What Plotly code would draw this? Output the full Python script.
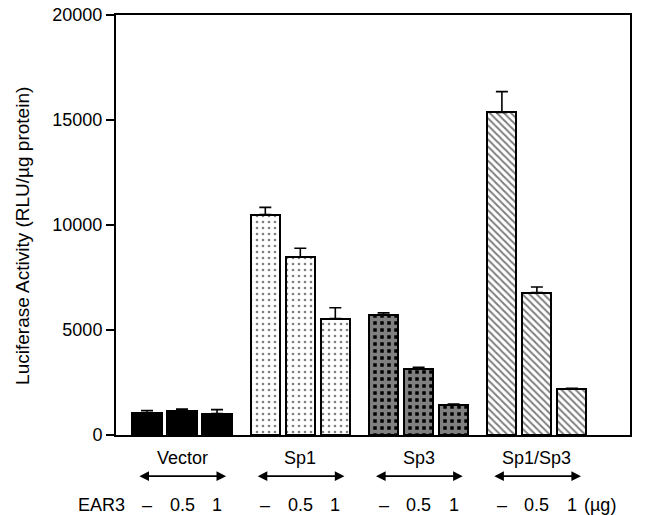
import plotly.graph_objects as go

groups = ["Vector", "Sp1", "Sp3", "Sp1/Sp3"]
doses = ["–", "0.5", "1"]
values = {
    "Vector": [1050, 1150, 1020],
    "Sp1": [10500, 8480, 5540],
    "Sp3": [5730, 3160, 1430],
    "Sp1/Sp3": [15360, 6780, 2180],
}
errors = {
    "Vector": [110, 80, 190],
    "Sp1": [340, 410, 520],
    "Sp3": [90, 60, 40],
    "Sp1/Sp3": [990, 270, 40],
}
y_ticks = [0, 5000, 10000, 15000, 20000]
y_title = "Luciferase Activity (RLU/µg protein)"

GROUP_STEP = 3.38
BAR_W = 0.83
FONT = "Arial, Liberation Sans, Helvetica, sans-serif"
FS = 18

patterns = {
    "Vector": dict(shape="", fgcolor="black", bgcolor="black"),
    "Sp1": dict(shape=".", size=6, solidity=0.15, fgcolor="black", bgcolor="white", fillmode="overlay"),
    "Sp3": dict(shape="+", size=7, solidity=0.75, fgcolor="white", bgcolor="black", fillmode="overlay"),
    "Sp1/Sp3": dict(shape="\\", size=5, solidity=0.4, fgcolor="black", bgcolor="white", fillmode="overlay"),
}

fig = go.Figure()
annotations = []
for g, name in enumerate(groups):
    x0 = g * GROUP_STEP
    xs = [x0 + i for i in range(len(doses))]
    color = "black" if name == "Vector" else "white"
    fig.add_trace(go.Bar(
        x=xs, y=values[name], width=BAR_W,
        marker=dict(color=color, line=dict(color="black", width=2), pattern=patterns[name]),
        error_y=dict(type="data", array=errors[name], arrayminus=[0] * len(doses),
                     symmetric=False, color="black", thickness=1.6, width=6),
        showlegend=False, name=name,
    ))
    annotations.append(dict(x=x0 + 1, y=-0.055, xref="x", yref="paper", text=name,
                            showarrow=False, font=dict(size=FS, family=FONT, color="black"),
                            yanchor="middle"))
    annotations.append(dict(x=x0 + 2.26, y=-0.098, xref="x", yref="paper",
                            ax=x0 - 0.26, ay=0, axref="x", ayref="pixel",
                            text="", showarrow=True, arrowside="end+start",
                            arrowhead=2, arrowsize=1.2, arrowwidth=1.6, arrowcolor="black"))
    for i, d in enumerate(doses):
        annotations.append(dict(x=xs[i], y=-0.167, xref="x", yref="paper", text=d,
                                showarrow=False, font=dict(size=FS, family=FONT, color="black"),
                                yanchor="middle"))

annotations.append(dict(x=-0.57, y=-0.167, xref="x", yref="paper", text="EAR3",
                        showarrow=False, xanchor="right", yanchor="middle",
                        font=dict(size=FS, family=FONT, color="black")))
annotations.append(dict(x=3 * GROUP_STEP + 2.3, y=-0.167, xref="x", yref="paper", text="(µg)",
                        showarrow=False, xanchor="left", yanchor="middle",
                        font=dict(size=FS, family=FONT, color="black")))
annotations.append(dict(x=-0.181, y=0.474, xref="paper", yref="paper", text=y_title,
                        textangle=-90, showarrow=False, xanchor="center", yanchor="middle",
                        font=dict(size=19, family=FONT, color="black")))

fig.update_layout(
    width=648, height=515,
    margin=dict(l=116, r=18, t=15, b=80),
    paper_bgcolor="white", plot_bgcolor="white",
    font=dict(family=FONT, size=FS, color="black"),
    annotations=annotations,
    bargap=0,
)
fig.update_xaxes(range=[-0.886, 13.8], showticklabels=False, ticks="", showgrid=False,
                 zeroline=False, showline=True, linecolor="black", linewidth=2, mirror=True,
                 automargin=False)
fig.update_yaxes(range=[0, 20000], tickvals=y_ticks, tickformat="d", ticks="outside", ticklen=8,
                 tickwidth=2, tickcolor="black", showgrid=False, zeroline=False, showline=True,
                 linecolor="black", linewidth=2, mirror=True, automargin=False,
                 tickfont=dict(size=FS))

fig.write_html("out.html", config={"displayModeBar": False},
               post_script="document.body.style.margin='0';")
